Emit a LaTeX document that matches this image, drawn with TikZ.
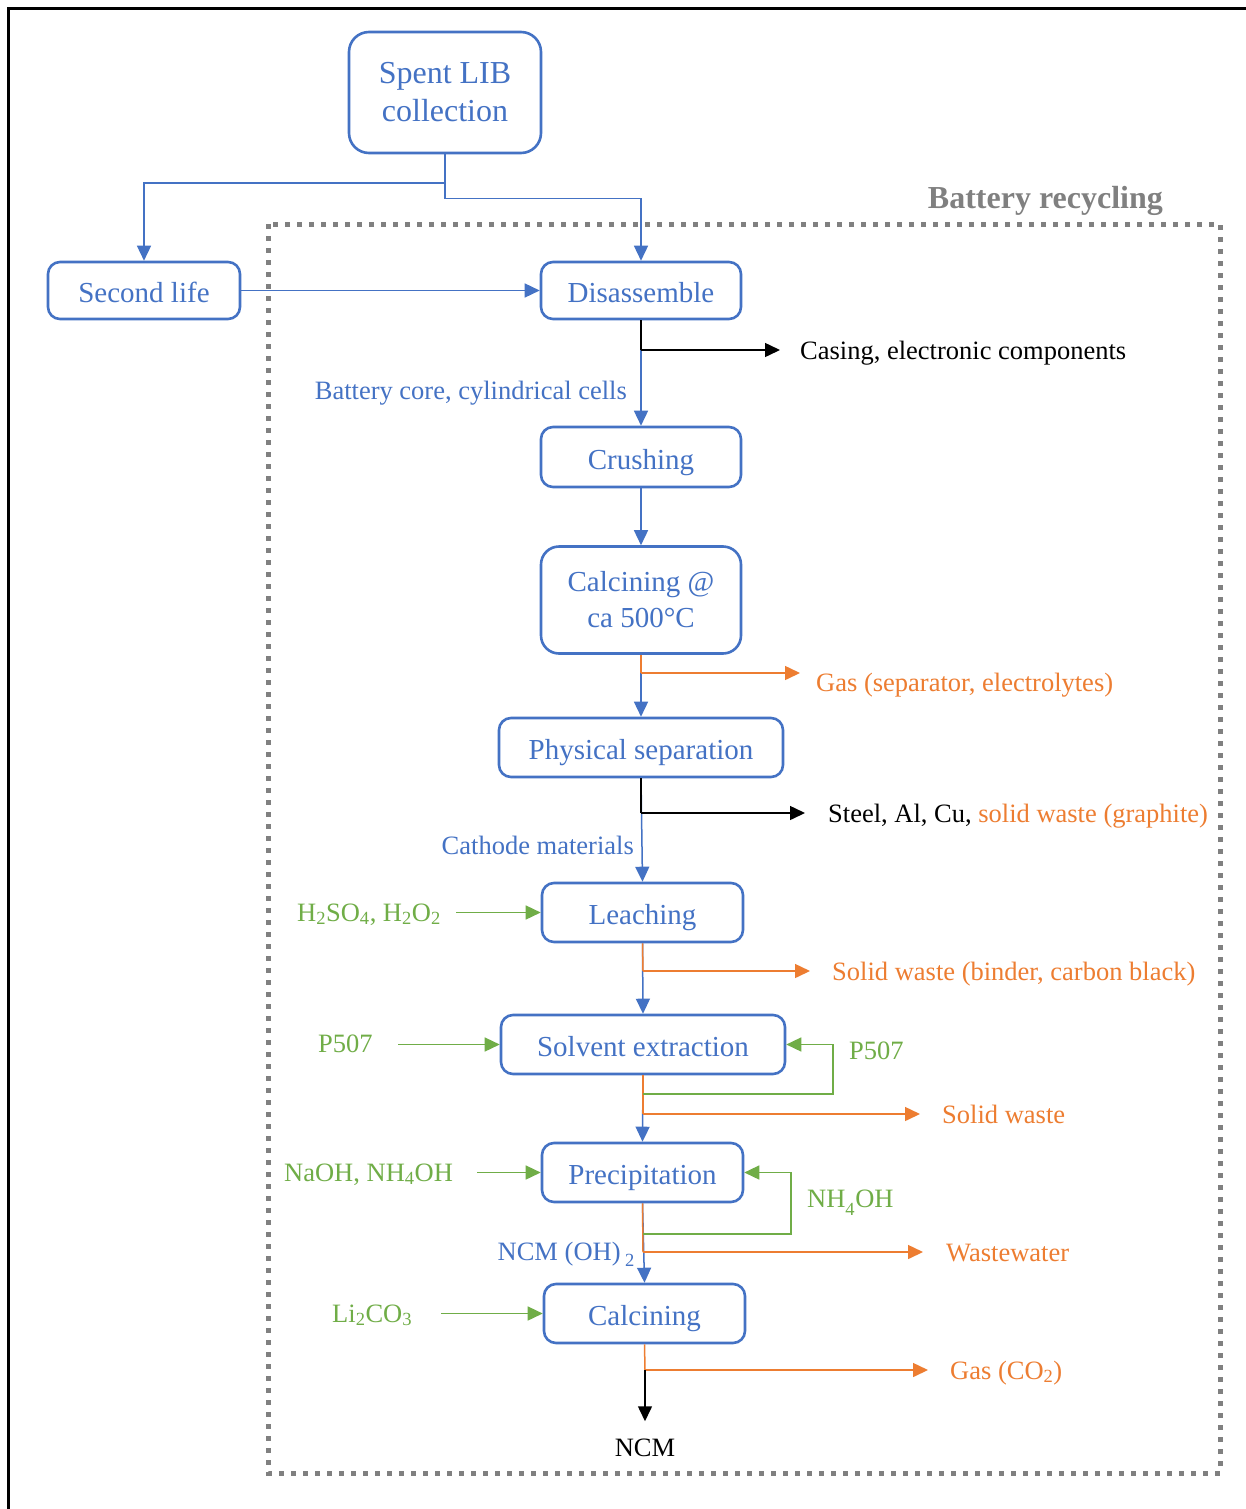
\documentclass[tikz,border=0pt]{standalone}
\usepackage{fontspec}
\setmainfont{Liberation Serif}
\usetikzlibrary{arrows.meta}
\definecolor{cblue}{HTML}{4472C4}
\definecolor{corange}{HTML}{ED7D31}
\definecolor{cgreen}{HTML}{70AD47}
\definecolor{cgray}{HTML}{808080}
\begin{document}
\begin{tikzpicture}[x=1pt,y=-1pt,
  box/.style={draw=cblue,line width=2.6pt,rounded corners=12pt,text=cblue,
    font=\fontsize{29}{36}\selectfont,align=center,inner sep=0pt},
  onebox/.style={box,text height=24pt,text depth=0pt},
  lbl/.style={font=\fontsize{26.5}{32}\selectfont,inner sep=0pt},
  tip/.style={-{Triangle[length=15pt,width=14pt]}},
  bline/.style={draw=cblue,line width=1.5pt},
  kline/.style={draw=black,line width=1.5pt},
  oline/.style={draw=corange,line width=1.5pt},
  gline/.style={draw=cgreen,line width=1.5pt},
]
\useasboundingbox (0,0) rectangle (1246,1509);
\fill[white] (0,0) rectangle (1246,1509);
% outer frame (left and top visible)
\draw[line width=2.5pt] (8.5,1530) -- (8.5,8.5) -- (1270,8.5);
% battery recycling dotted box
\draw[cgray,line width=5pt,dash pattern=on 5pt off 7pt] (268,224) rectangle (1220,1473);
\node[font=\fontsize{32}{36}\selectfont\bfseries,text=cgray,anchor=base east,inner sep=0pt] (title) at (1163,208) {Battery recycling};

% boxes
\node[box,rounded corners=20pt,minimum width=192pt,minimum height=121pt,font=\fontsize{32}{38}\selectfont] (spent) at (445,92.5) {Spent LIB\\collection};
\node[onebox,minimum width=192pt,minimum height=57pt] (second) at (144,290.5) {Second life};
\node[onebox,minimum width=200pt,minimum height=57pt] (dis) at (641,290.5) {Disassemble};
\node[onebox,minimum width=200pt,minimum height=60pt] (crush) at (641,457) {Crushing};
\node[box,rounded corners=18pt,minimum width=200pt,minimum height=107pt] (calc1) at (641,600) {Calcining @\\ca 500°C};
\node[onebox,minimum width=284pt,minimum height=59pt] (phys) at (641,747.5) {Physical separation};
\node[onebox,minimum width=201pt,minimum height=59pt] (leach) at (642.5,912.5) {Leaching};
\node[onebox,minimum width=284pt,minimum height=59pt] (solv) at (643,1044.5) {Solvent extraction};
\node[onebox,minimum width=201pt,minimum height=59pt] (prec) at (642.5,1172.5) {Precipitation};
\node[onebox,minimum width=201pt,minimum height=59pt] (calc2) at (644.5,1313.5) {Calcining};

% top splits
\coordinate (s1) at (445,183);
\coordinate (s2) at (445,198.5);
\draw[bline,tip] (spent.south) -- (s1) -| (second.north);
\draw[bline,tip] (s1) -- (s2) -| (dis.north);
\draw[bline,tip] (second.east) -- (dis.west);

% Disassemble -> Crushing
\coordinate (b1) at (641,350);
\coordinate (e1) at (780,350);
\draw[bline,tip] (dis.south) -- (crush.north);
\draw[kline] (dis.south) -- (b1);
\draw[kline,tip] (b1) -- (e1);
\node[lbl,anchor=base west] (casing) at (800,359) {Casing, electronic components};
\node[lbl,anchor=base east,text=cblue] (core) at (627,399) {Battery core, cylindrical cells};

% Crushing -> Calcining
\draw[bline,tip] (crush.south) -- (calc1.north);

% Calcining -> Physical separation
\coordinate (b2) at (641,673);
\coordinate (e2) at (800,673);
\draw[bline,tip] (calc1.south) -- (phys.north);
\draw[oline] (calc1.south) -- (b2);
\draw[oline,tip] (b2) -- (e2);
\node[lbl,anchor=base west,text=corange] (gas1) at (816,691) {Gas (separator, electrolytes)};

% Physical separation -> Leaching
\coordinate (b3) at (641,813);
\coordinate (e3) at (805,813);
\draw[bline,tip] (phys.south) -- (leach.north);
\draw[kline] (phys.south) -- (b3);
\draw[kline,tip] (b3) -- (e3);
\node[lbl,anchor=base west] (steel) at (828,822) {Steel, Al, Cu, \textcolor{corange}{solid waste (graphite)}};
\node[lbl,anchor=base east,text=cblue] (cath) at (634,854) {Cathode materials};
\node[lbl,anchor=base west,text=cgreen] (acid) at (297,921) {H\textsubscript{2}SO\textsubscript{4}, H\textsubscript{2}O\textsubscript{2}};
\coordinate (a1) at (456,912.5);
\draw[gline,tip] (a1) -- (leach.west);

% Leaching -> Solvent extraction
\coordinate (b4) at (643,971);
\coordinate (e4) at (810,971);
\draw[bline,tip] (leach.south) -- (solv.north);
\draw[oline] (leach.south) -- (b4);
\draw[oline,tip] (b4) -- (e4);
\node[lbl,anchor=base west,text=corange] (sw1) at (832,980) {Solid waste (binder, carbon black)};
\node[lbl,anchor=base west,text=cgreen] (p507a) at (318,1052) {P507};
\coordinate (a2) at (398,1044.5);
\draw[gline,tip] (a2) -- (solv.west);

% Solvent extraction -> Precipitation
\coordinate (b5) at (643,1114);
\coordinate (e5) at (920,1114);
\coordinate (r1) at (643,1094);
\coordinate (r1c) at (833,1094);
\draw[bline,tip] (solv.south) -- (prec.north);
\draw[oline] (solv.south) -- (b5);
\draw[oline,tip] (b5) -- (e5);
\draw[gline,tip] (r1) -- (r1c) |- (solv.east);
\node[lbl,anchor=base west,text=cgreen] (p507b) at (849,1059) {P507};
\node[lbl,anchor=base west,text=corange] (sw2) at (942,1123) {Solid waste};
\node[lbl,anchor=base west,text=cgreen] (naoh) at (284,1181) {NaOH, NH\textsubscript{4}OH};
\coordinate (a3) at (477,1172.5);
\draw[gline,tip] (a3) -- (prec.west);

% Precipitation -> Calcining
\coordinate (b6) at (643,1252);
\coordinate (e6) at (923,1252);
\coordinate (r2) at (643,1234);
\coordinate (r2c) at (791,1234);
\draw[bline,tip] (prec.south) -- (calc2.north);
\draw[oline] (prec.south) -- (b6);
\draw[oline,tip] (b6) -- (e6);
\draw[gline,tip] (r2) -- (r2c) |- (prec.east);
\node[lbl,anchor=base west,text=cgreen] (nh4) at (807,1207) {NH\raisebox{-0.35ex}{\textsubscript{4}}OH};
\node[lbl,anchor=base west,text=corange] (ww) at (946,1261) {Wastewater};
\node[lbl,anchor=base east,text=cblue] (ncmoh) at (635,1260) {NCM (OH)\,\raisebox{-0.2ex}{\textsubscript{2}}};
\node[lbl,anchor=base west,text=cgreen] (li) at (332,1322) {Li\textsubscript{2}CO\textsubscript{3}};
\coordinate (a4) at (441,1313.5);
\draw[gline,tip] (a4) -- (calc2.west);

% Calcining -> NCM
\coordinate (b7) at (645,1370);
\coordinate (e7) at (928,1370);
\node[lbl,anchor=base] (ncm) at (645,1456) {NCM};
\draw[oline] (calc2.south) -- (b7);
\draw[oline,tip] (b7) -- (e7);
\draw[kline,tip] (b7) -- ([yshift=17pt]ncm.north);
\node[lbl,anchor=base west,text=corange] (gas2) at (950,1379) {Gas (CO\textsubscript{2})};
\end{tikzpicture}
\end{document}
